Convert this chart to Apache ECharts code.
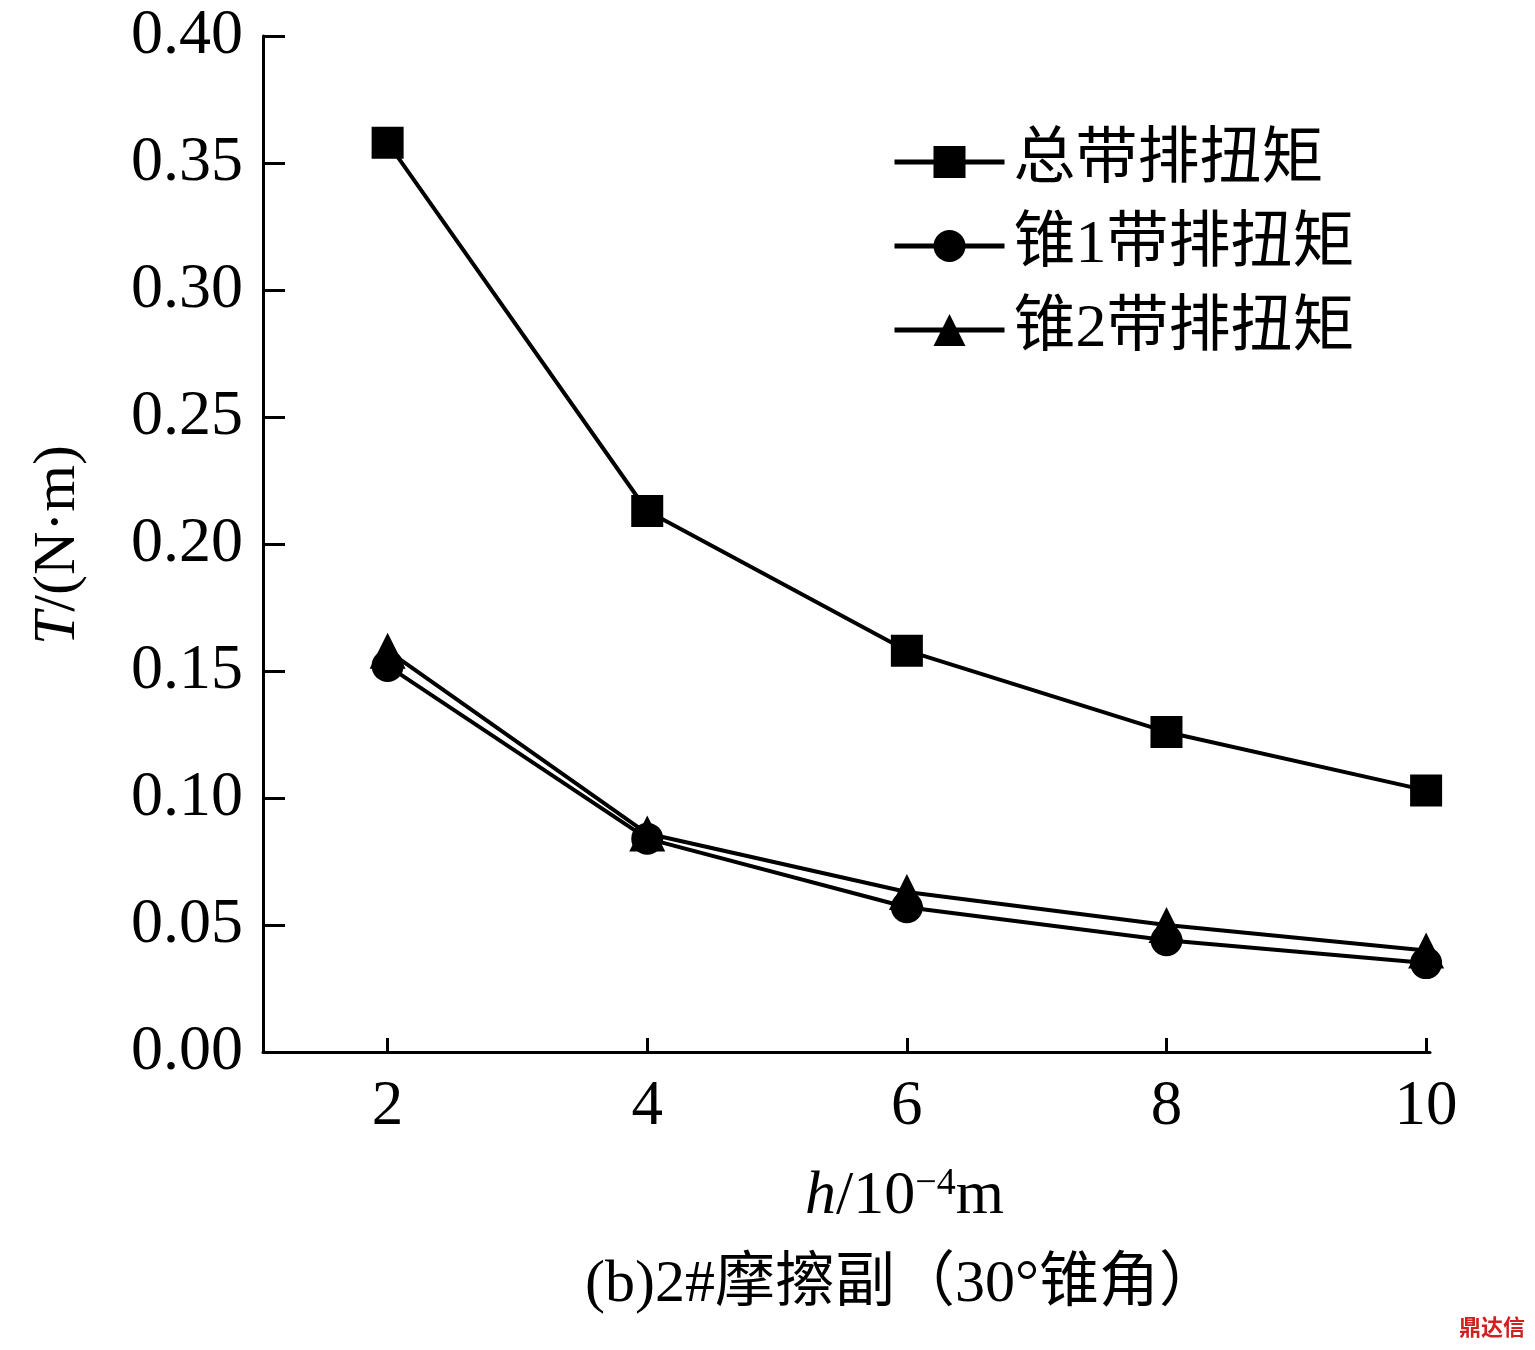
<!DOCTYPE html>
<html>
<head>
<meta charset="utf-8">
<script src="https://cdn.jsdelivr.net/npm/echarts@6/dist/echarts.min.js"></script>
<style>
html, body { margin: 0; padding: 0; background: #fff; }
#chart { width: 1535px; height: 1350px; }
</style>
</head>
<body>
<div id="chart"></div>
<script>
const xValues = [2, 4, 6, 8, 10];
const seriesNames = ['总带排扭矩', '锥1带排扭矩', '锥2带排扭矩'];
const totalTorque = [0.358, 0.213, 0.158, 0.126, 0.103];
const cone1Torque = [0.152, 0.084, 0.057, 0.044, 0.035];
const cone2Torque = [0.158, 0.086, 0.063, 0.050, 0.040];

const serif = '"Liberation Serif", "DejaVu Serif", serif';
const cjk = '"Liberation Serif", "Noto Sans CJK SC", serif';

let chart = echarts.init(document.getElementById('chart'));

function makeSeries(name, values, symbol, size) {
    return {
        name: name,
        type: 'line',
        data: xValues.map((x, i) => [x, values[i]]),
        symbol: symbol,
        symbolSize: size,
        lineStyle: { color: '#000', width: 4 },
        itemStyle: { color: '#000' }
    };
}

let option = {
    animation: false,
    grid: { left: 263, top: 36, right: 105, bottom: 298 },
    legend: {
        left: 887, top: 126, orient: 'vertical',
        itemWidth: 110, itemHeight: 40, itemGap: 22,
        lineStyle: { width: 5 },
        textStyle: { fontFamily: cjk, fontSize: 62, color: '#000', padding: [0, 0, 0, 4] },
        data: seriesNames
    },
    xAxis: {
        type: 'value', min: 1.04, max: 10.03,
        axisLine: { lineStyle: { color: '#000', width: 3 } },
        axisTick: { inside: true, length: 14, customValues: xValues, lineStyle: { color: '#000', width: 3 } },
        axisLabel: { customValues: xValues, fontFamily: serif, fontSize: 63, color: '#000', margin: 24 },
        splitLine: { show: false }
    },
    yAxis: {
        type: 'value', min: 0, max: 0.4, interval: 0.05,
        axisLine: { show: true, lineStyle: { color: '#000', width: 3 } },
        axisTick: { inside: true, length: 22, lineStyle: { color: '#000', width: 3 } },
        axisLabel: { fontFamily: serif, fontSize: 64, color: '#000', margin: 20,
            formatter: v => v.toFixed(2) },
        splitLine: { show: false }
    },
    graphic: [
        { type: 'text', x: 28, y: 645, rotation: Math.PI / 2,
          style: { text: '{i|T}/(N·m)', fontFamily: serif, fontSize: 60, fill: '#000',
                   rich: { i: { fontStyle: 'italic', fontFamily: serif, fontSize: 60 } } } },
        { type: 'text', left: 805, top: 1165,
          style: { text: '{i|h}/10{s|−4}m', fontFamily: serif, fontSize: 62, fill: '#000',
                   rich: { i: { fontStyle: 'italic', fontFamily: serif, fontSize: 62 },
                           s: { fontFamily: serif, fontSize: 38, verticalAlign: 'top', padding: [0, 0, 26, 0] } } } },
        { type: 'text', left: 585, top: 1255,
          style: { text: '(b)2#摩擦副（30°锥角）', fontFamily: cjk, fontSize: 60, fill: '#000' } },
        { type: 'text', right: 10, top: 1316,
          style: { text: '鼎达信', fontFamily: '"Noto Sans CJK SC"', fontSize: 22, fontWeight: 'bold', fill: '#d02020' } }
    ],
    series: [
        makeSeries(seriesNames[0], totalTorque, 'rect', 32),
        makeSeries(seriesNames[1], cone1Torque, 'circle', 32),
        makeSeries(seriesNames[2], cone2Torque, 'triangle', 36)
    ]
};
chart.setOption(option);
</script>
</body>
</html>
